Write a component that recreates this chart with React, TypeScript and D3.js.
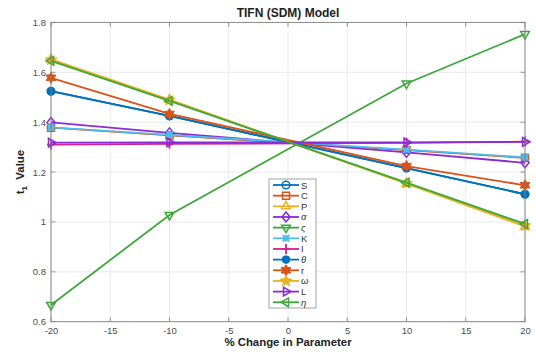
import * as d3 from "d3";
import React, { useEffect, useRef } from "react";

// x positions (percent change)
const changes = [-20, -10, 10, 20];

const seriesNames = ["S", "C", "P", "α", "ς", "K", "I", "θ", "r", "ω", "L", "η"];
const italicNames = ["α", "ς", "θ", "ω", "η"];

const valS = [1.524, 1.425, 1.216, 1.111];
const valC = [1.378, 1.347, 1.288, 1.257];
const valP = [1.652, 1.49, 1.153, 0.982];
const valAlpha = [1.399, 1.357, 1.279, 1.237];
const valSigma = [0.667, 1.028, 1.555, 1.753];
const valK = [1.379, 1.349, 1.29, 1.259];
const valI = [1.31, 1.313, 1.317, 1.322];
const valTheta = [1.524, 1.425, 1.216, 1.111];
const valR = [1.578, 1.433, 1.224, 1.147];
const valOmega = [1.65, 1.489, 1.155, 0.985];
const valL = [1.318, 1.319, 1.319, 1.321];
const valEta = [1.646, 1.485, 1.158, 0.992];

const allValues = [valS, valC, valP, valAlpha, valSigma, valK, valI, valTheta, valR, valOmega, valL, valEta];

const colors = ["#0072BD", "#D95319", "#EDB120", "#8A2BD6", "#3DA83A", "#4DBEEE", "#D6208F", "#0072BD", "#D95319", "#EDB120", "#8A2BD6", "#3DA83A"];
const markers = ["circle", "square", "triUp", "diamond", "triDown", "filledSquare", "plus", "dot", "hexagram", "pentagram", "triRight", "triLeft"];

const xTicks = [-20, -15, -10, -5, 0, 5, 10, 15, 20];
const yTicks = [0.6, 0.8, 1, 1.2, 1.4, 1.6, 1.8];

const FONT = "'Liberation Sans', Arial, Helvetica, sans-serif";

function starPath(points: number, outer: number, inner: number) {
  const pts: [number, number][] = [];
  for (let i = 0; i < points * 2; i++) {
    const r = i % 2 === 0 ? outer : inner;
    const a = (Math.PI * i) / points - Math.PI / 2;
    pts.push([r * Math.cos(a), r * Math.sin(a)]);
  }
  return "M" + pts.map((p) => p.join(",")).join("L") + "Z";
}

function triPath(size: number, angle: number) {
  const pts: [number, number][] = [];
  for (let i = 0; i < 3; i++) {
    const a = angle + (2 * Math.PI * i) / 3;
    pts.push([size * Math.cos(a), size * Math.sin(a)]);
  }
  return "M" + pts.map((p) => p.join(",")).join("L") + "Z";
}

function drawMarker(g: d3.Selection<SVGGElement, unknown, null, undefined>, kind: string, x: number, y: number, color: string) {
  const m = g.append("g").attr("transform", `translate(${x},${y})`);
  const open = (d: string) => m.append("path").attr("d", d).attr("fill", "none").attr("stroke", color).attr("stroke-width", 1.5);
  const filled = (d: string) => m.append("path").attr("d", d).attr("fill", color).attr("stroke", color).attr("stroke-width", 1);
  switch (kind) {
    case "circle":
      m.append("circle").attr("r", 3.8).attr("fill", "none").attr("stroke", color).attr("stroke-width", 1.5);
      break;
    case "square":
      open("M-3.5,-3.5H3.5V3.5H-3.5Z");
      break;
    case "triUp":
      open(triPath(5, -Math.PI / 2));
      break;
    case "diamond":
      open("M0,-5L4,0L0,5L-4,0Z");
      break;
    case "triDown":
      open(triPath(5, Math.PI / 2));
      break;
    case "filledSquare":
      filled("M-2.5,-2.5H2.5V2.5H-2.5Z");
      m.append("path").attr("d", "M-3.5,-3.5L3.5,3.5M-3.5,3.5L3.5,-3.5").attr("stroke", color).attr("stroke-width", 1.5);
      break;
    case "plus":
      m.append("path").attr("d", "M0,-5V5M-4,0H4").attr("stroke", color).attr("stroke-width", 1.8);
      break;
    case "dot":
      m.append("circle").attr("r", 3.8).attr("fill", color).attr("stroke", color);
      break;
    case "hexagram":
      filled(starPath(6, 5.5, 3.2));
      break;
    case "pentagram":
      filled(starPath(5, 6, 2.6));
      break;
    case "triRight":
      open(triPath(5, 0));
      break;
    case "triLeft":
      open(triPath(5, Math.PI));
      break;
  }
}

const App: React.FC = () => {
  const svgRef = useRef<SVGSVGElement>(null);

  useEffect(() => {
    const svg = d3.select(svgRef.current);
    svg.selectAll("*").remove();

    const left = 51;
    const right = 525;
    const top = 22.4;
    const bottom = 321.7;

    const x = d3.scaleLinear().domain([-20, 20]).range([left, right]);
    const y = d3.scaleLinear().domain([0.6, 1.8]).range([bottom, top]);

    svg.append("rect").attr("x", left).attr("y", top).attr("width", right - left).attr("height", bottom - top).attr("fill", "#fff");

    // grid
    const grid = svg.append("g");
    xTicks.forEach((t) => {
      grid.append("line").attr("x1", x(t)).attr("x2", x(t)).attr("y1", top).attr("y2", bottom).attr("stroke", "#e6e6e6").attr("stroke-width", 0.8);
    });
    yTicks.forEach((t) => {
      grid.append("line").attr("x1", left).attr("x2", right).attr("y1", y(t)).attr("y2", y(t)).attr("stroke", "#e6e6e6").attr("stroke-width", 0.8);
    });

    // axes
    const xAxis = d3.axisBottom(x).tickValues(xTicks).tickSize(0).tickPadding(6).tickFormat((d) => String(d));
    const gx = svg.append("g").attr("transform", `translate(0,${bottom})`).call(xAxis);
    const yAxis = d3.axisLeft(y).tickValues(yTicks).tickSize(0).tickPadding(5).tickFormat((d) => String(d));
    const gy = svg.append("g").attr("transform", `translate(${left},0)`).call(yAxis);
    [gx, gy].forEach((g) => {
      g.select(".domain").remove();
      g.selectAll("text").attr("font-family", FONT).attr("font-size", 9.5).attr("fill", "#4d4d4d");
    });

    // inward ticks on all four sides
    const ticks = svg.append("g").attr("stroke", "#808080").attr("stroke-width", 0.8);
    xTicks.forEach((t) => {
      ticks.append("line").attr("x1", x(t)).attr("x2", x(t)).attr("y1", bottom).attr("y2", bottom - 4.5);
      ticks.append("line").attr("x1", x(t)).attr("x2", x(t)).attr("y1", top).attr("y2", top + 4.5);
    });
    yTicks.forEach((t) => {
      ticks.append("line").attr("x1", left).attr("x2", left + 4.5).attr("y1", y(t)).attr("y2", y(t));
      ticks.append("line").attr("x1", right).attr("x2", right - 4.5).attr("y1", y(t)).attr("y2", y(t));
    });

    // lines + markers
    const line = d3
      .line<number>()
      .x((_, i) => x(changes[i]))
      .y((d) => y(d));
    const plot = svg.append("g");
    allValues.forEach((vals, si) => {
      plot.append("path").attr("d", line(vals)).attr("fill", "none").attr("stroke", colors[si]).attr("stroke-width", 1.8);
      vals.forEach((v, i) => drawMarker(plot, markers[si], x(changes[i]), y(v), colors[si]));
    });

    // box
    svg.append("rect").attr("x", left).attr("y", top).attr("width", right - left).attr("height", bottom - top).attr("fill", "none").attr("stroke", "#808080").attr("stroke-width", 0.9);

    // title and labels
    svg.append("text").attr("x", (left + right) / 2).attr("y", 16.5).attr("text-anchor", "middle").attr("font-family", FONT).attr("font-size", 12).attr("font-weight", "bold").attr("fill", "#222").text("TIFN (SDM) Model");
    svg.append("text").attr("x", (left + right) / 2).attr("y", 346).attr("text-anchor", "middle").attr("font-family", FONT).attr("font-size", 11.4).attr("font-weight", "bold").attr("fill", "#222").text("% Change in Parameter");
    const yl = svg
      .append("text")
      .attr("transform", `translate(24,${(top + bottom) / 2}) rotate(-90)`)
      .attr("text-anchor", "middle")
      .attr("font-family", FONT)
      .attr("font-size", 11.4)
      .attr("font-weight", "bold")
      .attr("fill", "#222");
    yl.append("tspan").text("t");
    yl.append("tspan").attr("font-size", 8).attr("dy", 3).text("1");
    yl.append("tspan").attr("dy", -3).text("\u00a0\u00a0Value");

    // legend
    const lgX = 269;
    const lgY = 179;
    const rowH = 10.66;
    const lg = svg.append("g");
    lg.append("rect").attr("x", lgX).attr("y", lgY).attr("width", 47).attr("height", 129).attr("fill", "#fff").attr("stroke", "#8c8c8c").attr("stroke-width", 0.8);
    seriesNames.forEach((name, i) => {
      const ry = lgY + 6 + rowH * i;
      lg.append("line").attr("x1", lgX + 4).attr("x2", lgX + 30).attr("y1", ry).attr("y2", ry).attr("stroke", colors[i]).attr("stroke-width", 1.8);
      drawMarker(lg, markers[i], lgX + 17, ry, colors[i]);
      lg.append("text")
        .attr("x", lgX + 32)
        .attr("y", ry + 3.5)
        .attr("font-family", FONT)
        .attr("font-size", 9.5)
        .attr("font-style", italicNames.includes(name) ? "italic" : "normal")
        .attr("fill", "#333")
        .text(name);
    });
  }, []);

  return <svg ref={svgRef} width={536} height={354} style={{ position: "absolute", left: 0, top: 0, background: "#fff" }} />;
};

export default App;
